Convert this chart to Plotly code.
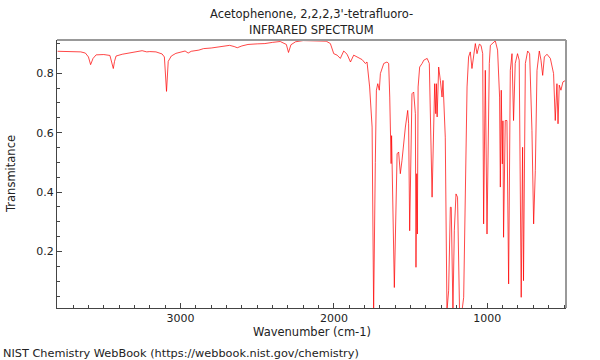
import plotly.graph_objects as go

title_lines = ["Acetophenone, 2,2,2,3'-tetrafluoro-", "INFRARED SPECTRUM"]
x_label = "Wavenumber (cm-1)"
y_label = "Transmitance"
footer = "NIST Chemistry WebBook (https://webbook.nist.gov/chemistry)"

x_ticks = [1000, 2000, 3000]
y_ticks = [0.2, 0.4, 0.6, 0.8]

wavenumber = [
    3801, 3700, 3650, 3620, 3600, 3586, 3570, 3550, 3500, 3460, 3445, 3438, 3430, 3420,
    3380, 3300, 3250, 3220, 3200, 3160, 3120, 3105, 3091, 3080, 3060, 3030, 3000, 2970,
    2950, 2930, 2880, 2850, 2800, 2760, 2720, 2680, 2650, 2630, 2600, 2560, 2500, 2450,
    2400, 2350, 2310, 2296, 2280, 2250, 2200, 2150, 2100, 2050, 2023, 2001, 1979, 1958,
    1936, 1914, 1892, 1871, 1816, 1795, 1784, 1767, 1751, 1741, 1730, 1723, 1714, 1704,
    1697, 1675, 1654, 1643, 1636, 1627, 1624, 1606, 1588, 1578, 1567, 1556, 1534, 1519,
    1513, 1506, 1491, 1480, 1469, 1465, 1460, 1456, 1451, 1441, 1425, 1414, 1392, 1378,
    1360, 1349, 1343, 1336, 1332, 1327, 1317, 1306, 1295, 1289, 1280, 1274, 1263, 1252,
    1241, 1235, 1224, 1215, 1204, 1194, 1181, 1165, 1154, 1143, 1132, 1122, 1111, 1100,
    1089, 1078, 1067, 1052, 1041, 1030, 1024, 1013, 1002, 987, 980, 959, 948, 933,
    920, 915, 909, 902, 898, 894, 883, 872, 861, 850, 839, 829, 818, 803,
    792, 779, 770, 764, 752, 737, 724, 709, 698, 687, 676, 661, 650, 639,
    628, 611, 589, 568, 557, 546, 539, 531, 520, 507, 490,
]

transmittance = [
    0.874, 0.874, 0.872, 0.868, 0.855, 0.829, 0.850, 0.862, 0.863, 0.860, 0.835, 0.816, 0.840, 0.858,
    0.864, 0.871, 0.876, 0.872, 0.873, 0.872, 0.865, 0.855, 0.739, 0.840, 0.858, 0.867, 0.872, 0.875,
    0.868, 0.874, 0.878, 0.883, 0.885, 0.888, 0.892, 0.894, 0.890, 0.886, 0.892, 0.897, 0.899, 0.900,
    0.904, 0.907, 0.897, 0.870, 0.896, 0.906, 0.910, 0.909, 0.910, 0.908, 0.900, 0.866, 0.861, 0.850,
    0.875, 0.864, 0.838, 0.861, 0.846, 0.833, 0.838, 0.754, 0.619, 0.000, 0.500, 0.743, 0.765, 0.743,
    0.799, 0.833, 0.838, 0.833, 0.720, 0.496, 0.590, 0.079, 0.529, 0.535, 0.462, 0.507, 0.619, 0.675,
    0.630, 0.270, 0.731, 0.737, 0.664, 0.147, 0.462, 0.259, 0.754, 0.821, 0.833, 0.844, 0.850, 0.833,
    0.383, 0.664, 0.765, 0.664, 0.765, 0.653, 0.821, 0.776, 0.720, 0.776, 0.619, 0.585, 0.000, 0.068,
    0.349, 0.349, 0.000, 0.270, 0.394, 0.383, 0.000, 0.000, 0.046, 0.495, 0.754, 0.855, 0.872, 0.816,
    0.866, 0.900, 0.866, 0.898, 0.894, 0.866, 0.293, 0.810, 0.259, 0.833, 0.894, 0.906, 0.909, 0.878,
    0.720, 0.417, 0.743, 0.495, 0.640, 0.248, 0.641, 0.641, 0.091, 0.810, 0.866, 0.641, 0.833, 0.866,
    0.844, 0.046, 0.551, 0.102, 0.833, 0.875, 0.866, 0.608, 0.293, 0.473, 0.810, 0.875, 0.844, 0.793,
    0.855, 0.864, 0.850, 0.799, 0.641, 0.765, 0.630, 0.760, 0.743, 0.771, 0.776,
]

font_family = "DejaVu Sans"
text_color = "#222"
text_size = 11.5
tick_size = 11

fig = go.Figure()
fig.add_trace(go.Scatter(
    x=wavenumber, y=transmittance, mode="lines",
    line=dict(color="rgba(255,0,0,0.72)", width=1),
    hoverinfo="skip", showlegend=False,
))

fig.update_layout(
    width=600, height=360,
    margin=dict(l=57, r=34, t=40, b=52),
    paper_bgcolor="white", plot_bgcolor="white",
    font=dict(family=font_family, size=text_size, color=text_color),
    showlegend=False,
)

fig.update_xaxes(
    range=[3805, 487], showgrid=False, zeroline=False,
    showline=True, linecolor="#444", linewidth=1,
    tickmode="array", tickvals=x_ticks, ticktext=[str(v) for v in x_ticks],
    ticks="inside", ticklen=5, tickcolor="#444",
    minor=dict(dtick=100, tick0=0, ticks="inside", ticklen=3, tickcolor="#444"),
    tickfont=dict(family=font_family, size=tick_size, color=text_color),
)
fig.update_yaxes(
    range=[0.01, 0.912], showgrid=False, zeroline=False,
    showline=True, linecolor="#444", linewidth=1,
    tickmode="array", tickvals=y_ticks, ticktext=[str(v) for v in y_ticks],
    ticks="inside", ticklen=5, tickcolor="#444",
    minor=dict(dtick=0.05, tick0=0, ticks="inside", ticklen=3, tickcolor="#444"),
    tickfont=dict(family=font_family, size=tick_size, color=text_color),
)

# grey top and right frame
fig.add_shape(type="line", xref="paper", yref="paper", x0=0, x1=1, y0=1, y1=1,
              line=dict(color="#999", width=2))
fig.add_shape(type="line", xref="paper", yref="paper", x0=1, x1=1, y0=0, y1=1,
              line=dict(color="#999", width=2))

plot_h = 268
plot_w = 509
for i, line in enumerate(title_lines):
    fig.add_annotation(text=line, xref="paper", yref="paper", x=0.5,
                       y=(308 - (14 + 16 * i)) / plot_h, yanchor="middle",
                       showarrow=False,
                       font=dict(family=font_family, size=text_size, color=text_color))

fig.add_annotation(text=x_label, xref="paper", yref="paper", x=0.5, y=(308 - 332) / plot_h,
                   yanchor="middle", showarrow=False,
                   font=dict(family=font_family, size=text_size, color=text_color))
fig.add_annotation(text=y_label, xref="paper", yref="paper", x=-46 / plot_w, y=0.5,
                   textangle=-90, xanchor="center", showarrow=False,
                   font=dict(family=font_family, size=text_size, color=text_color))
fig.add_annotation(text=footer, xref="paper", yref="paper", x=-56 / plot_w, y=(308 - 353) / plot_h,
                   xanchor="left", yanchor="middle", showarrow=False,
                   font=dict(family=font_family, size=11.3, color=text_color))

fig.write_html("out.html", config={"displayModeBar": False},
               post_script="document.body.style.margin='0';document.body.style.padding='0';")
